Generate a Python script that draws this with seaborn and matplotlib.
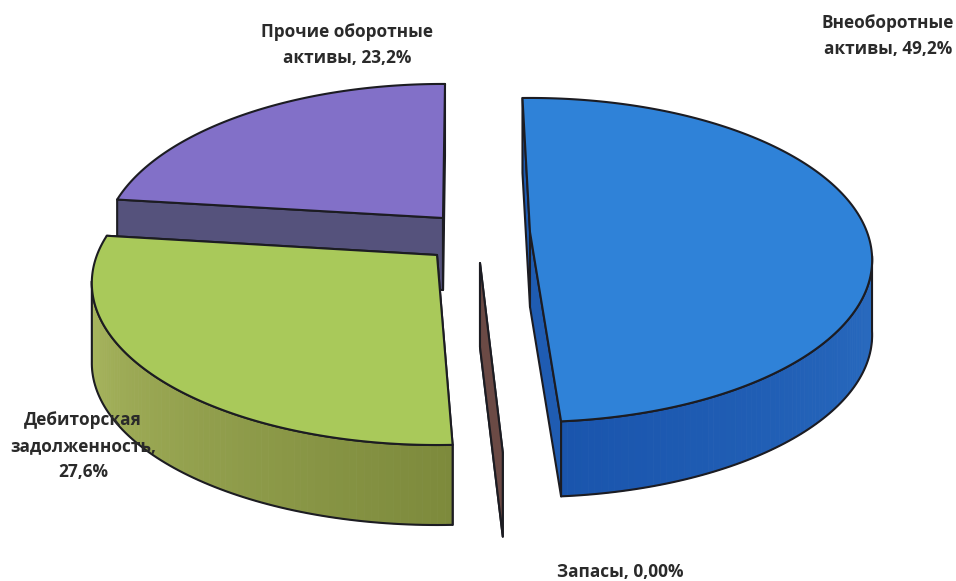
import numpy as np
import matplotlib
matplotlib.use("Agg")
import matplotlib.pyplot as plt
from matplotlib.patches import Polygon
import seaborn as sns

# values in percent, clockwise from the top
categories = ["Внеоборотные\nактивы", "Запасы", "Дебиторская\nзадолженность", "Прочие оборотные\nактивы"]
values = [49.2, 0.0, 27.6, 23.2]
value_labels = ["49,2%", "0,00%", "27,6%", "23,2%"]

sns.set_theme(style="white")
plt.rcParams["font.family"] = ["Open Sans", "DejaVu Sans"]

top_colors = ["#2f82d8", "#6b4a45", "#a9c95a", "#8270c8"]
wall_colors = ["#1f5cb2", "#6b4a45", "#8b9646", "#55527c"]
edge = "#1c1c22"

# outer wall shading, from the start of the visible arc to its end
wall_blend = [["#2a6cc0", "#1a55ad"], None, ["#7d8a3c", "#aab860"], None]

# where every exploded slice ends up on the canvas (pixels)
apex_x = [530, 480, 437, 443]
apex_y = [232, 263, 255, 218]
width = [337, 340, 340, 335]
depth = [75, 84, 80, 72]
turn = [-1.5, -0.3, 0.7, 0.4]   # small per-slice shift caused by the explosion
draw_order = [3, 0, 1, 2]

# perspective of the tilted disc
k = 0.1727
s = 157.2

label_x = [888, 620, 83, 347]
label_y = [36, 572, 446, 45]


def rim(theta, i):
    t = np.radians(theta + turn[i])
    v = -np.cos(t)
    den = 1 - k * v
    return apex_x[i] + width[i] * np.sin(t) / den, apex_y[i] + s * v / den


fig, ax = plt.subplots(figsize=(9.56, 5.81), dpi=100)
fig.subplots_adjust(0, 0, 1, 1)
ax.set_xlim(0, 956)
ax.set_ylim(581, 0)
ax.axis("off")

ends = np.cumsum(values) * 3.6
starts = ends - np.array(values) * 3.6

for i in draw_order:
    a, b = starts[i], ends[i]
    style = dict(edgecolor=edge, linewidth=1.5, joinstyle="round")

    # flat faces of the cut
    for th in [a, b]:
        x, y = rim(th, i)
        pts = [(apex_x[i], apex_y[i]), (x, y), (x, y + depth[i]), (apex_x[i], apex_y[i] + depth[i])]
        ax.add_patch(Polygon(pts, facecolor=wall_colors[i], **style))

    # outer wall, only the part that faces the viewer
    lo, hi = max(a, 100), min(b, 260)
    if hi > lo:
        x, y = rim(np.linspace(lo, hi, 81), i)
        shades = sns.blend_palette(wall_blend[i], 80)
        for j, c in enumerate(shades):
            seg = [(x[j], y[j]), (x[j + 1], y[j + 1]), (x[j + 1], y[j + 1] + depth[i]), (x[j], y[j] + depth[i])]
            ax.add_patch(Polygon(seg, facecolor=c, edgecolor=c, linewidth=0.6))
        pts = np.r_[np.c_[x, y], np.c_[x, y + depth[i]][::-1]]
        ax.add_patch(Polygon(pts, facecolor="none", **style))

    # top
    if b > a:
        x, y = rim(np.linspace(a, b, 160), i)
        pts = np.r_[[(apex_x[i], apex_y[i])], np.c_[x, y]]
        ax.add_patch(Polygon(pts, facecolor=top_colors[i], **style))

for i, name in enumerate(categories):
    ax.text(label_x[i], label_y[i], f"{name}, {value_labels[i]}".replace("задолженность, ", "задолженность,\n"),
            ha="center", va="center", fontsize=12.4, fontweight="bold", color="#2a2a2a",
            linespacing=1.6, zorder=10)

fig.savefig("out.png", dpi=100)
